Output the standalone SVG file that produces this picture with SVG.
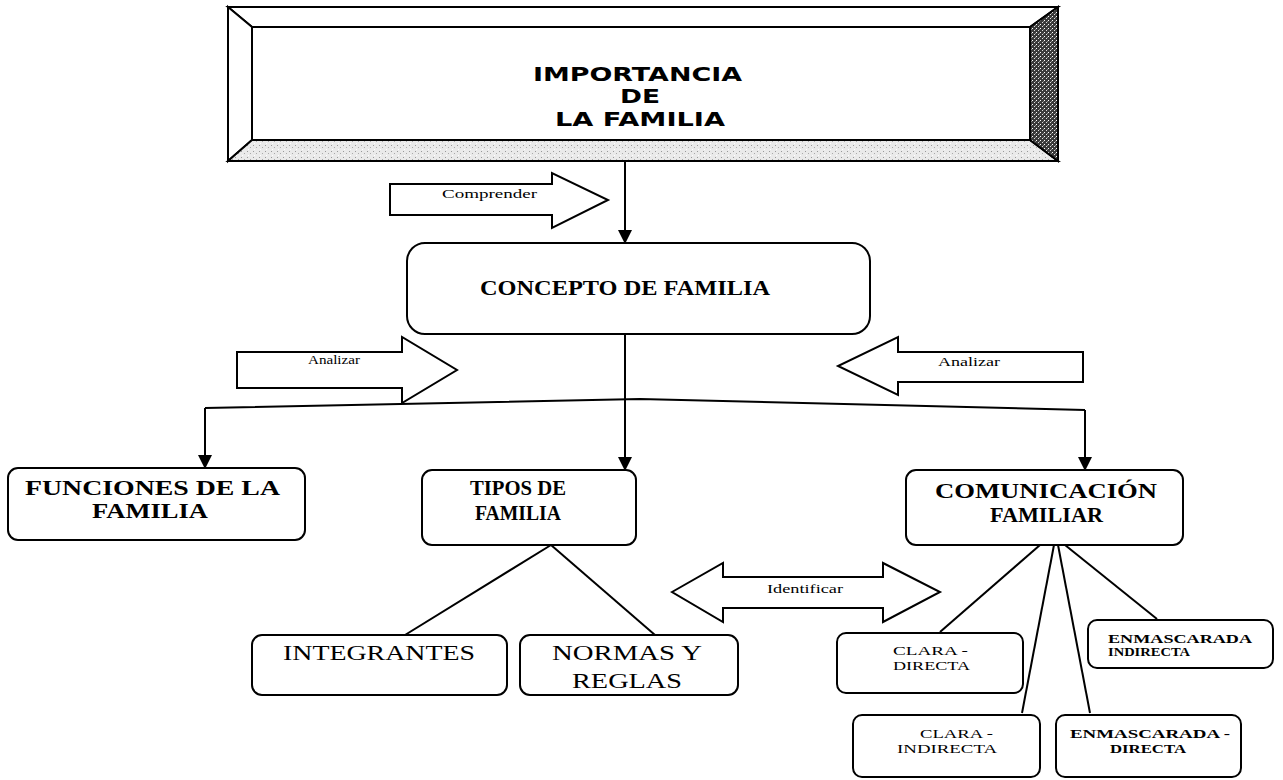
<svg xmlns="http://www.w3.org/2000/svg" width="1283" height="780" viewBox="0 0 1283 780">
<style>
.bx{fill:#fff;stroke:#000;stroke-width:2}
.bev{stroke:#000;stroke-width:2;stroke-linejoin:miter}
.ln{fill:none;stroke:#000;stroke-width:2}
.ba{fill:#fff;stroke:#000;stroke-width:2;stroke-linejoin:miter}
.tt{font-family:"DejaVu Sans",sans-serif;font-weight:bold;font-size:20px;fill:#000;text-anchor:start}
.nb{font-family:"Liberation Serif","Times New Roman",serif;font-weight:bold;font-size:21px;fill:#000}
.nr{font-family:"Liberation Serif","Times New Roman",serif;font-size:21px;fill:#000}
.sm{font-family:"Liberation Serif","Times New Roman",serif;font-size:12px;fill:#000}
.sb{font-family:"Liberation Serif","Times New Roman",serif;font-size:13px;fill:#000}
.sbb{font-family:"Liberation Serif","Times New Roman",serif;font-weight:bold;font-size:13px;fill:#000}
</style>
<defs>
<pattern id="lt" width="6" height="6" patternUnits="userSpaceOnUse">
<rect width="6" height="6" fill="#eaeaea"/>
<rect x="1" y="1" width="1" height="1" fill="#999"/>
<rect x="4" y="3" width="1" height="1" fill="#aaa"/>
<rect x="2" y="5" width="1" height="1" fill="#fff"/>
</pattern>
<pattern id="dk" width="4" height="4" patternUnits="userSpaceOnUse">
<rect width="4" height="4" fill="#3a3a3a"/>
<rect x="0" y="0" width="1" height="1" fill="#fff"/>
<rect x="2" y="2" width="1" height="1" fill="#ddd"/>
<rect x="3" y="1" width="1" height="1" fill="#888"/>
</pattern>
<marker id="ah" markerUnits="userSpaceOnUse" markerWidth="14" markerHeight="14" viewBox="0 0 14 14" refX="13" refY="7" orient="auto">
<path d="M0,0 L14,7 L0,14 Z" fill="#000"/>
</marker>
</defs>

<g id="importancia">
<polygon class="bev" fill="#fff" points="228,7 1058,7 1030,27 252,27"/>
<polygon class="bev" fill="#fff" points="228,7 252,27 252,140 228,161"/>
<polygon class="bev" fill="url(#lt)" points="228,161 252,140 1030,140 1058,161"/>
<polygon class="bev" fill="url(#dk)" points="1058,7 1058,161 1030,140 1030,27"/>
<rect x="252" y="27" width="778" height="113" fill="#fff" stroke="#000" stroke-width="2"/>
<text class="tt" x="533" y="81" textLength="209" lengthAdjust="spacingAndGlyphs">IMPORTANCIA</text>
<text class="tt" x="620" y="103" textLength="40" lengthAdjust="spacingAndGlyphs">DE</text>
<text class="tt" x="555" y="126" textLength="170" lengthAdjust="spacingAndGlyphs">LA  FAMILIA</text>
</g>

<g id="concepto">
<rect class="bx" x="407" y="243" width="463" height="91" rx="18"/>
<text class="nb" x="480" y="295" textLength="290" lengthAdjust="spacingAndGlyphs">CONCEPTO DE FAMILIA</text>
</g>

<g id="funciones">
<rect class="bx" x="8" y="468" width="297" height="72" rx="10"/>
<text class="nb" x="25" y="495" textLength="255" lengthAdjust="spacingAndGlyphs">FUNCIONES DE LA</text>
<text class="nb" x="92" y="518" textLength="116" lengthAdjust="spacingAndGlyphs">FAMILIA</text>
</g>

<g id="tipos">
<rect class="bx" x="422" y="470" width="214" height="75" rx="10"/>
<text class="nb" x="470" y="495" textLength="96" lengthAdjust="spacingAndGlyphs">TIPOS DE</text>
<text class="nb" x="475" y="520" textLength="86" lengthAdjust="spacingAndGlyphs">FAMILIA</text>
</g>

<g id="comunicacion">
<rect class="bx" x="906" y="470" width="277" height="75" rx="10"/>
<text class="nb" x="935" y="498" textLength="222" lengthAdjust="spacingAndGlyphs">COMUNICACIÓN</text>
<text class="nb" x="990" y="522" textLength="113" lengthAdjust="spacingAndGlyphs">FAMILIAR</text>
</g>

<g id="integrantes">
<rect class="bx" x="252" y="635" width="255" height="60" rx="10"/>
<text class="nr" x="283" y="660" textLength="192" lengthAdjust="spacingAndGlyphs">INTEGRANTES</text>
</g>

<g id="normas">
<rect class="bx" x="520" y="635" width="218" height="60" rx="10"/>
<text class="nr" x="552" y="660" textLength="150" lengthAdjust="spacingAndGlyphs">NORMAS Y</text>
<text class="nr" x="572" y="688" textLength="110" lengthAdjust="spacingAndGlyphs">REGLAS</text>
</g>

<g id="clara-directa">
<rect class="bx" x="837" y="633" width="186" height="60" rx="9"/>
<text class="sb" x="893" y="655" textLength="75" lengthAdjust="spacingAndGlyphs">CLARA -</text>
<text class="sb" x="893" y="670" textLength="77" lengthAdjust="spacingAndGlyphs">DIRECTA</text>
</g>

<g id="clara-indirecta">
<rect class="bx" x="853" y="715" width="187" height="62" rx="9"/>
<text class="sb" x="920" y="738" textLength="73" lengthAdjust="spacingAndGlyphs">CLARA -</text>
<text class="sb" x="897" y="753" textLength="100" lengthAdjust="spacingAndGlyphs">INDIRECTA</text>
</g>

<g id="enmascarada-directa">
<rect class="bx" x="1056" y="715" width="185" height="62" rx="9"/>
<text class="sbb" x="1070" y="738" textLength="160" lengthAdjust="spacingAndGlyphs">ENMASCARADA -</text>
<text class="sbb" x="1110" y="753" textLength="76" lengthAdjust="spacingAndGlyphs">DIRECTA</text>
</g>

<g id="enmascarada-indirecta">
<rect class="bx" x="1088" y="620" width="185" height="48" rx="9"/>
<text class="sbb" x="1108" y="643" textLength="144" lengthAdjust="spacingAndGlyphs">ENMASCARADA</text>
<text class="sbb" x="1108" y="656" textLength="82" lengthAdjust="spacingAndGlyphs">INDIRECTA</text>
</g>

<g id="connectors">
<line class="ln" x1="625" y1="161" x2="625" y2="243" marker-end="url(#ah)"/>
<line class="ln" x1="625" y1="334" x2="625" y2="470" marker-end="url(#ah)"/>
<polyline class="ln" points="205,408 640,399 1085,410"/>
<line class="ln" x1="205" y1="408" x2="205" y2="468" marker-end="url(#ah)"/>
<line class="ln" x1="1085" y1="410" x2="1085" y2="470" marker-end="url(#ah)"/>
<line class="ln" x1="551" y1="545" x2="405" y2="635"/>
<line class="ln" x1="551" y1="545" x2="655" y2="635"/>
<line class="ln" x1="1040" y1="545" x2="940" y2="632"/>
<line class="ln" x1="1054" y1="545" x2="1022" y2="713"/>
<line class="ln" x1="1058" y1="545" x2="1090" y2="713"/>
<line class="ln" x1="1065" y1="545" x2="1157" y2="619"/>
</g>

<g id="arrow-comprender">
<polygon class="ba" points="390,184 552,184 552,173 608,200 552,228 552,215 390,215"/>
<text class="sm" x="442" y="198" textLength="95" lengthAdjust="spacingAndGlyphs">Comprender</text>
</g>

<g id="arrow-analizar-left">
<polygon class="ba" points="237,352 402,352 402,337 457,370 402,403 402,388 237,388"/>
<text class="sm" x="308" y="364" textLength="52" lengthAdjust="spacingAndGlyphs">Analizar</text>
</g>

<g id="arrow-analizar-right">
<polygon class="ba" points="1083,352 898,352 898,337 838,366 898,395 898,382 1083,382"/>
<text class="sm" x="938" y="366" textLength="62" lengthAdjust="spacingAndGlyphs">Analizar</text>
</g>

<g id="arrow-identificar">
<polygon class="ba" points="672,592 723,563 723,577 883,577 883,563 940,592 883,622 883,608 723,608 723,622"/>
<text class="sm" x="767" y="593" textLength="76" lengthAdjust="spacingAndGlyphs">Identificar</text>
</g>
</svg>
